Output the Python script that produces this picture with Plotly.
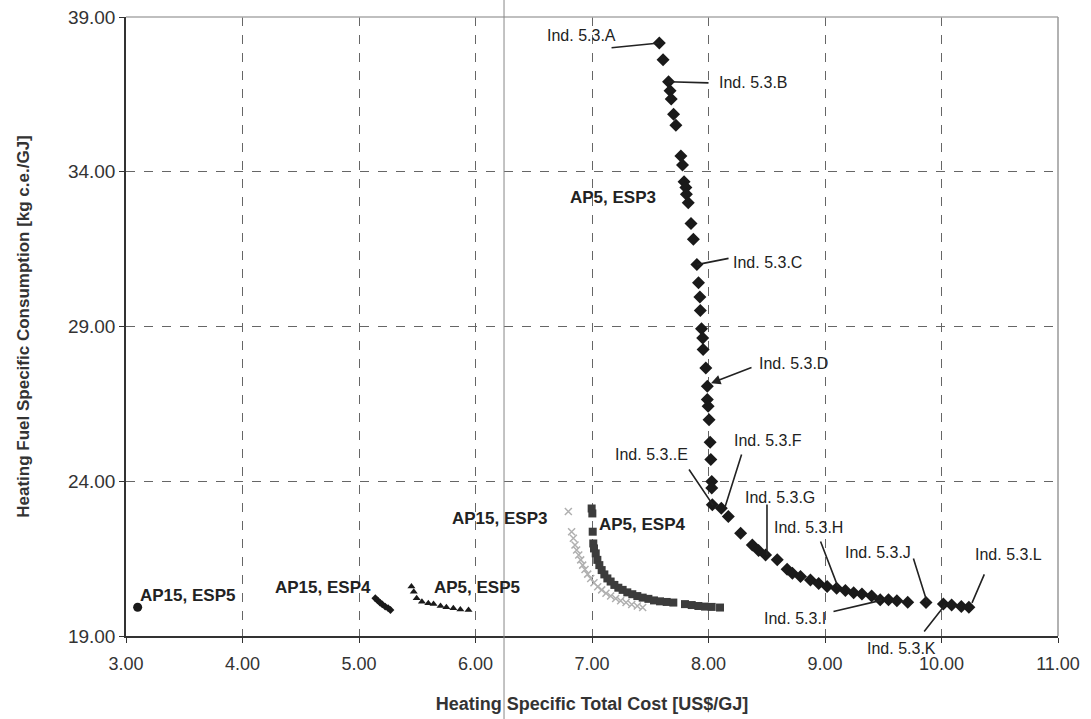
import plotly.graph_objects as go

# Ind. 5.3 series (diamonds)
ind_x = [7.578, 7.61, 7.657, 7.67, 7.68, 7.70, 7.72, 7.763, 7.777, 7.79, 7.806, 7.81, 7.826,
         7.85, 7.87, 7.90, 7.914, 7.926, 7.93, 7.94, 7.95, 7.954, 7.977, 7.99, 7.99, 7.997,
         8.005, 8.014, 8.02, 8.028, 8.028, 8.033, 8.11, 8.17, 8.276, 8.376, 8.43, 8.49, 8.59,
         8.675, 8.72, 8.79, 8.875, 8.946, 9.018, 9.10, 9.175, 9.246, 9.317, 9.40, 9.474,
         9.545, 9.617, 9.71, 9.867, 10.016, 10.087, 10.17, 10.235]
ind_y = [38.16, 37.62, 36.91, 36.62, 36.35, 35.86, 35.50, 34.51, 34.22, 33.68, 33.49, 33.27, 33.00,
         32.33, 31.82, 31.00, 30.41, 29.95, 29.52, 28.93, 28.63, 28.26, 27.66, 27.07, 26.64, 26.42,
         25.99, 25.26, 24.70, 23.99, 23.78, 23.24, 23.13, 22.86, 22.32, 21.94, 21.76, 21.62, 21.46,
         21.16, 21.03, 20.92, 20.81, 20.70, 20.60, 20.54, 20.47, 20.40, 20.36, 20.29, 20.17,
         20.17, 20.14, 20.09, 20.08, 20.03, 20.00, 19.95, 19.93]

# AP5, ESP4 (squares)
sq_x = [6.997, 7.003, 7.006, 7.011, 7.017, 7.032, 7.046, 7.063, 7.083, 7.106, 7.132, 7.160,
        7.192, 7.226, 7.263, 7.303, 7.346, 7.389, 7.435, 7.484, 7.532, 7.584, 7.641, 7.698,
        7.798, 7.856, 7.913, 7.970, 8.027, 8.099]
sq_y = [23.12, 22.96, 22.37, 21.99, 21.83, 21.67, 21.46, 21.29, 21.13, 20.99, 20.86, 20.76,
        20.65, 20.56, 20.49, 20.41, 20.35, 20.29, 20.24, 20.20, 20.15, 20.12, 20.10, 20.08,
        20.03, 20.00, 19.97, 19.95, 19.94, 19.92]

# AP15, ESP3 (light crosses)
cx_x = [6.797, 6.825, 6.840, 6.854, 6.868, 6.886, 6.903, 6.920, 6.940, 6.963, 6.989, 7.017,
        7.049, 7.083, 7.120, 7.160, 7.203, 7.246, 7.292, 7.341, 7.389, 7.435]
cx_y = [23.02, 22.37, 22.16, 21.94, 21.78, 21.62, 21.46, 21.29, 21.15, 21.00, 20.86, 20.72,
        20.59, 20.49, 20.38, 20.29, 20.21, 20.14, 20.08, 20.02, 19.97, 19.92]

# AP5, ESP5 (triangles)
tr_x = [5.45, 5.47, 5.495, 5.54, 5.595, 5.64, 5.70, 5.75, 5.81, 5.87, 5.94]
tr_y = [20.60, 20.43, 20.22, 20.11, 20.06, 20.03, 19.97, 19.93, 19.90, 19.86, 19.84]

# AP15, ESP4
a4_x = [5.14, 5.16, 5.18, 5.20, 5.225, 5.25, 5.27]
a4_y = [20.22, 20.15, 20.08, 20.02, 19.95, 19.90, 19.84]

# AP15, ESP5
a5_x = [3.10]
a5_y = [19.93]

x_ticks = [3, 4, 5, 6, 7, 8, 9, 10, 11]
x_tick_text = ["3.00", "4.00", "5.00", "6.00", "7.00", "8.00", "9.00", "10.00", "11.00"]
y_ticks = [19, 24, 29, 34, 39]
y_tick_text = ["19.00", "24.00", "29.00", "34.00", "39.00"]

# text labels: (text, x, y, bold)
labels = [
    ("Ind. 5.3.A", 6.597, 38.39, False),
    ("Ind. 5.3.B", 8.073, 36.87, False),
    ("AP5, ESP3", 6.79, 33.18, True),
    ("Ind. 5.3.C", 8.193, 31.08, False),
    ("Ind. 5.3.D", 8.416, 27.82, False),
    ("Ind. 5.3..E", 7.18, 24.85, False),
    ("Ind. 5.3.F", 8.20, 25.33, False),
    ("Ind. 5.3.G", 8.296, 23.49, False),
    ("Ind. 5.3.H", 8.545, 22.49, False),
    ("Ind. 5.3.J", 9.155, 21.71, False),
    ("Ind. 5.3.L", 10.27, 21.62, False),
    ("Ind. 5.3.I", 8.459, 19.58, False),
    ("AP15, ESP3", 5.781, 22.81, True),
    ("AP5, ESP4", 7.043, 22.59, True),
    ("AP5, ESP5", 5.627, 20.58, True),
    ("AP15, ESP4", 4.262, 20.58, True),
    ("AP15, ESP5", 3.103, 20.32, True),
]
# leader lines: (tail_x, tail_y, head_x, head_y, arrowhead)
leaders = [
    (7.155, 38.00, 7.578, 38.16, 0),
    (8.013, 36.87, 7.657, 36.91, 0),
    (8.185, 31.21, 7.90, 31.00, 0),
    (8.382, 27.69, 8.021, 27.17, 2),
    (7.824, 24.43, 8.039, 23.23, 0),
    (8.288, 24.91, 8.142, 23.17, 0),
    (8.502, 23.30, 8.502, 21.62, 0),
    (8.957, 22.10, 9.112, 20.58, 0),
    (9.06, 19.78, 9.489, 20.16, 0),
    (9.755, 21.55, 9.876, 20.10, 0),
    (9.841, 19.10, 10.03, 20.00, 0),
    (10.373, 21.04, 10.262, 20.07, 0),
]

fig = go.Figure()
fig.add_trace(go.Scatter(x=cx_x, y=cx_y, mode="markers",
                         marker=dict(symbol="x-thin-open", size=7, color="#b0b0b0",
                                     line=dict(width=1.5, color="#b0b0b0"))))
fig.add_trace(go.Scatter(x=sq_x, y=sq_y, mode="markers",
                         marker=dict(symbol="square", size=8, color="#3c3c3c")))
fig.add_trace(go.Scatter(x=ind_x, y=ind_y, mode="markers",
                         marker=dict(symbol="diamond", size=10, color="#1a1a1a")))
fig.add_trace(go.Scatter(x=tr_x, y=tr_y, mode="markers",
                         marker=dict(symbol="triangle-up", size=7, color="#1a1a1a")))
fig.add_trace(go.Scatter(x=a4_x, y=a4_y, mode="markers",
                         marker=dict(symbol="diamond", size=6, color="#1a1a1a")))
fig.add_trace(go.Scatter(x=a5_x, y=a5_y, mode="markers",
                         marker=dict(symbol="circle", size=9, color="#1a1a1a")))

FONT = "Liberation Sans, Arial"
anns = []
for t, x, y, b in labels:
    anns.append(dict(x=x, y=y, xref="x", yref="y", text=f"<b>{t}</b>" if b else t,
                     showarrow=False, xanchor="left", yanchor="middle",
                     font=dict(family=FONT, size=17 if b else 16, color="#222")))
# label below the axis (outside the y range)
anns.append(dict(x=9.343, y=-0.02, xref="x", yref="paper", text="Ind. 5.3.K",
                 showarrow=False, xanchor="left", yanchor="middle",
                 font=dict(family=FONT, size=16, color="#222")))
for tx, ty, hx, hy, ah in leaders:
    anns.append(dict(x=hx, y=hy, xref="x", yref="y", ax=tx, ay=ty, axref="x", ayref="y",
                     text="", showarrow=True, arrowhead=ah, arrowsize=1.2, arrowwidth=1.6,
                     arrowcolor="#222", standoff=0, startstandoff=0))

shapes = [
    dict(type="line", xref="paper", yref="paper", x0=0, x1=1, y0=1, y1=1,
         line=dict(color="#aaaaaa", width=1.5)),
    dict(type="line", xref="paper", yref="paper", x0=1, x1=1, y0=0, y1=1,
         line=dict(color="#999999", width=1.5)),
    dict(type="line", xref="paper", yref="paper", x0=0.4056, x1=0.4056, y0=-0.14, y1=1.03,
         line=dict(color="#888888", width=1)),
]

fig.update_layout(
    width=1091, height=719,
    margin=dict(l=126, r=33, t=17, b=83, autoexpand=False),
    paper_bgcolor="white", plot_bgcolor="white",
    showlegend=False,
    font=dict(family=FONT, color="#333"),
    annotations=anns, shapes=shapes,
    xaxis=dict(range=[3, 11], tickvals=x_ticks, ticktext=x_tick_text, automargin=False,
               showgrid=True, gridcolor="#666", griddash="dash", gridwidth=1,
               showline=True, linecolor="#333", linewidth=1.5,
               ticks="outside", ticklen=5, tickcolor="#333", ticklabelstandoff=6,
               tickfont=dict(size=18, color="#333"), zeroline=False,
               title=dict(text="<b>Heating Specific Total Cost [US$/GJ]</b>",
                          font=dict(size=18, color="#333"), standoff=24)),
    yaxis=dict(range=[19, 39], tickvals=y_ticks, ticktext=y_tick_text, automargin=False,
               showgrid=True, gridcolor="#666", griddash="dash", gridwidth=1,
               showline=True, linecolor="#333", linewidth=1.5,
               ticks="outside", ticklen=5, tickcolor="#333",
               tickfont=dict(size=19, color="#333"), zeroline=False,
               title=dict(text="<b>Heating Fuel Specific Consumption [kg c.e./GJ]</b>",
                          font=dict(size=17, color="#333"), standoff=34)),
)

fig.write_html("out.html")
